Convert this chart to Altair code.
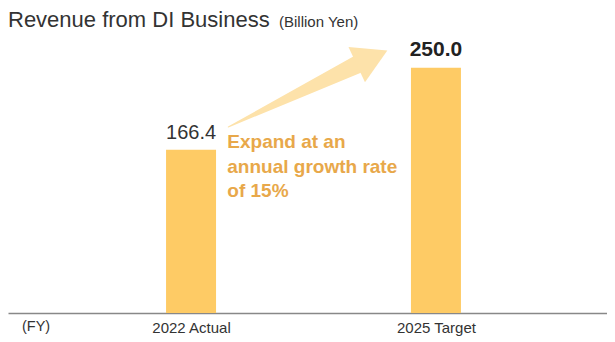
import altair as alt
import pandas as pd

# ---- data ----
categories = ["2022 Actual", "2025 Target"]
positions = [0, 1]
values = [166.4, 250.0]
value_labels = ["166.4", "250.0"]

title_text = "Revenue from DI Business"
unit_text = "(Billion Yen)"
fy_text = "(FY)"
note_text = "Expand at an\nannual growth rate\nof 15%"

# arrow annotation (x in category-index units, y in value units)
arrow_x = [0.152, 0.675]
arrow_y = [189.5, 252.7]
arrow_w = [0, 18]
head_x = [0.739]
head_y = [260.3]
note_x = [0.148]
note_y = [168.0]

BAR = "#FECB65"
ARROW = "#FDE2AA"
NOTE = "#E8A84A"
TXT = "#333333"
FONT = "Liberation Sans"

W, H = 599, 265

bars_df = pd.DataFrame({"pos": positions, "cat": categories, "val": values, "lab": value_labels})
arrow_df = pd.DataFrame({"x": arrow_x, "y": arrow_y, "w": arrow_w})
head_df = pd.DataFrame({"x": head_x, "y": head_y})
note_df = pd.DataFrame({"x": note_x, "y": note_y, "t": [note_text]})
one = pd.DataFrame({"a": [0]})

yscale = alt.Scale(domain=[0, 270], nice=False, zero=True)
xscale = alt.Scale(domain=[-0.727, 1.678], nice=False, zero=False)

label_expr = "[" + ",".join("'" + c + "'" for c in categories) + "][datum.value]"

xaxis = alt.Axis(title=None, values=positions, labelExpr=label_expr,
                 labelAngle=0, ticks=False, grid=False,
                 domainColor="#888888", domainWidth=1.5,
                 labelFont=FONT, labelFontSize=15, labelColor=TXT,
                 labelPadding=7, labelFlush=False, labelOverlap=False)

base = alt.Chart(bars_df)
xpos = alt.X("pos:Q", scale=xscale, axis=xaxis)
yval = alt.Y("val:Q", scale=yscale, axis=None)

bars = base.mark_bar(color=BAR, size=50).encode(x=xpos, y=yval)

lab1 = base.transform_filter(alt.datum.pos == positions[0]).mark_text(
    font=FONT, fontSize=20, color=TXT, baseline="alphabetic", dy=-11
).encode(x=xpos, y=yval, text="lab:N")

lab2 = base.transform_filter(alt.datum.pos == positions[1]).mark_text(
    font=FONT, fontSize=21, fontWeight="bold", color="#222222", baseline="alphabetic", dy=-12
).encode(x=xpos, y=yval, text="lab:N")

xa = alt.X("x:Q", scale=xscale, axis=xaxis)
ya = alt.Y("y:Q", scale=yscale, axis=None)

trail = alt.Chart(arrow_df).mark_trail(color=ARROW).encode(
    x=xa, y=ya,
    size=alt.Size("w:Q", scale=None, legend=None),
    order="x:Q",
)

head = alt.Chart(head_df).mark_point(
    shape="triangle-right", filled=True, color=ARROW, opacity=1, size=1521, angle=335
).encode(x=xa, y=ya)

note = alt.Chart(note_df).mark_text(
    font=FONT, fontSize=19, fontWeight="bold", color=NOTE, align="left",
    baseline="alphabetic", lineBreak="\n", lineHeight=24.5
).encode(x=xa, y=ya, text="t:N")

title = alt.Chart(one).mark_text(
    text=title_text, font=FONT, fontSize=22, color=TXT, align="left", baseline="alphabetic"
).encode(x=alt.value(0), y=alt.value(-21))

unit = alt.Chart(one).mark_text(
    text=unit_text, font=FONT, fontSize=15, color=TXT, align="left", baseline="alphabetic"
).encode(x=alt.value(271), y=alt.value(-21))

fy = alt.Chart(one).mark_text(
    text=fy_text, font=FONT, fontSize=14.5, color=TXT, align="left", baseline="top"
).encode(x=alt.value(14), y=alt.value(H + 7))

chart = alt.layer(bars, lab1, lab2, trail, head, note, title, unit, fy).properties(
    width=W, height=H,
    autosize=alt.AutoSizeParams(type="none"),
    padding={"left": 0, "top": 40, "right": 0, "bottom": 30},
    background="white",
).configure_view(stroke=None)

chart.save("out.html", embed_options={"renderer": "svg", "actions": False})
